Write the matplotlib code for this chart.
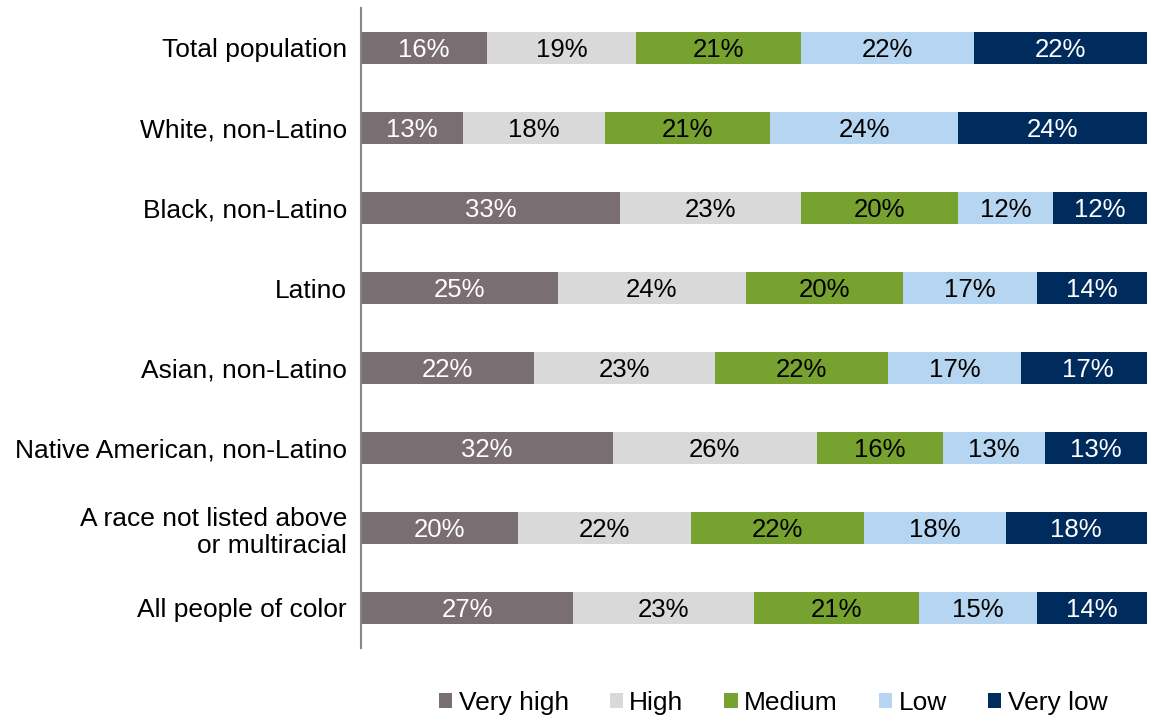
import numpy as np
import matplotlib.pyplot as plt
from matplotlib.patches import Patch

plt.rcParams['font.family'] = ['Liberation Sans', 'DejaVu Sans']

# groups, top to bottom
groups = ['Total population', 'White, non-Latino', 'Black, non-Latino', 'Latino',
          'Asian, non-Latino', 'Native American, non-Latino',
          'A race not listed above\nor multiracial', 'All people of color']
levels = ['Very high', 'High', 'Medium', 'Low', 'Very low']

very_high = [16, 13, 33, 25, 22, 32, 20, 27]
high = [19, 18, 23, 24, 23, 26, 22, 23]
medium = [21, 21, 20, 20, 22, 16, 22, 21]
low = [22, 24, 12, 17, 17, 13, 18, 15]
very_low = [22, 24, 12, 14, 17, 13, 18, 14]

colors = ['#796E71', '#D9D9D9', '#78A22F', '#B5D5F0', '#002C5D']
txt_colors = ['white', 'black', 'black', 'black', 'white']

fig = plt.figure(figsize=(11.49, 7.19), dpi=100)
ax = fig.add_axes([361/1149, 1 - 648/719, 786/1149, 640/719])

y = np.arange(len(groups))
left = np.zeros(len(groups))
for vals, col, tc, name in zip([very_high, high, medium, low, very_low], colors, txt_colors, levels):
    vals = np.array(vals, dtype=float)
    ax.barh(y, vals, left=left, height=0.4, color=col, label=name)
    for yi, (l, v) in enumerate(zip(left, vals)):
        ax.text(l + v / 2, yi + 0.02, '%d%%' % v, ha='center', va='center', color=tc, fontsize=18.5)
    left += vals

ax.set_xlim(0, 100)
ax.set_ylim(len(groups) - 0.5, -0.5)
ax.set_yticks(y)
ax.set_yticklabels(groups, fontsize=19)
ax.tick_params(axis='y', length=0, pad=10)
ax.set_xticks([])
for s in ['top', 'right', 'bottom']:
    ax.spines[s].set_visible(False)
ax.spines['left'].set_color('#868686')
ax.spines['left'].set_linewidth(1.5)

handles = [Patch(facecolor=c, edgecolor='none') for c in colors]
fig.legend(handles, levels, loc='center', bbox_to_anchor=(773/1149, 1 - 703/719), ncol=5,
           frameon=False, fontsize=19, handlelength=0.5, handleheight=0.5,
           handletextpad=0.25, columnspacing=1.55)

fig.savefig('out.png', dpi=100)
